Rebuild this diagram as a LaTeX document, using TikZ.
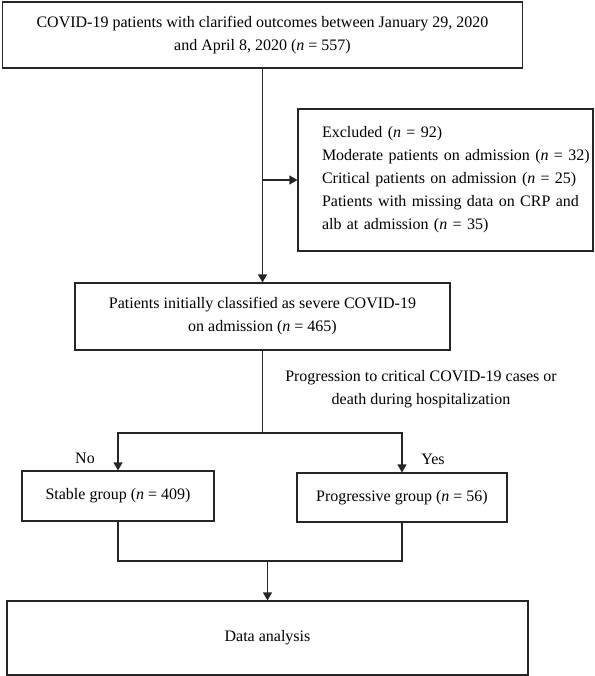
\documentclass[tikz,border=0pt]{standalone}
\usepackage{fontspec}
\setmainfont{Liberation Serif}
\usepackage{tikz}
\usetikzlibrary{arrows.meta}

\begin{document}
\begin{tikzpicture}[x=1pt,y=-1pt,font=\fontsize{16}{23}\selectfont,
        box/.style={draw=black!85,line width=1.1pt,align=center,inner sep=0pt},
        arr/.style={-{Triangle[length=8pt,width=9pt]}},
        link/.style={draw=black!85,line width=1.1pt}]
        \useasboundingbox (0,0) rectangle (594,676);
        % boxes
        \node[box,minimum width=520,minimum height=66] (top) at (262.5,35)
            {COVID-19 patients with clarified outcomes between January 29, 2020\\and April 8, 2020 (\textit{n} = 557)};
        \node[box,minimum width=295,minimum height=142,text width=247,align=left] (excl) at (445.5,180)
            {Excluded (\textit{n} = 92)\\\mbox{Moderate patients on admission (\textit{n} = 32)}\\\mbox{Critical patients on admission (\textit{n} = 25)}\\\mbox{Patients with missing data on CRP and}\\alb at admission (\textit{n} = 35)};
        \node[box,minimum width=375,minimum height=67] (severe) at (262.5,316.5)
            {Patients initially classified as severe COVID-19\\on admission (\textit{n} = 465)};
        \node[align=center] (crit) at (421,389)
            {Progression to critical COVID-19 cases or\\death during hospitalization};
        \node[box,minimum width=192,minimum height=50] (stable) at (118,496) {Stable group (\textit{n} = 409)};
        \node[box,minimum width=210,minimum height=49] (prog) at (402,497.5) {Progressive group (\textit{n} = 56)};
        \node[box,minimum width=521,minimum height=74] (data) at (267.5,638) {Data analysis};
        \node (no) at (85,458) {No};
        \node (yes) at (433,459) {Yes};
        % connectors
        \coordinate (split) at (262.5,433);
        \coordinate (merge) at (267.5,561);
        \draw[link,arr] (top.south) -- (severe.north);
        \draw[link,arr] (top.south |- excl.west) -- (excl.west);
        \draw[link] (severe.south) -- (split);
        \draw[link,arr] (split) -| (stable.north);
        \draw[link,arr] (split) -| (prog.north);
        \draw[link] (stable.south) |- (prog.south |- merge) -- (prog.south);
        \draw[link,arr] (merge) -- (data.north);
    \end{tikzpicture}
\end{document}
